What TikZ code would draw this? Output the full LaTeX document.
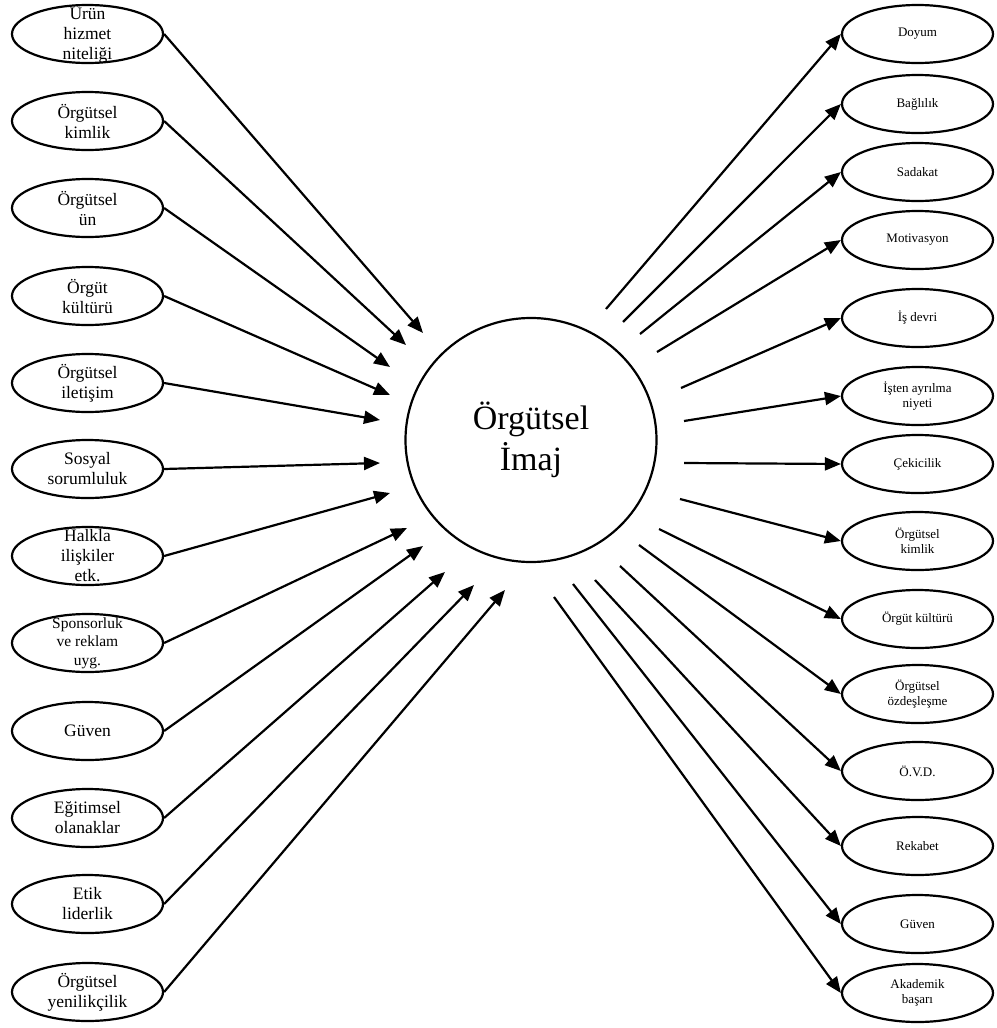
\documentclass[tikz,border=0pt]{standalone}
\usepackage{fontspec}
\setmainfont{Liberation Serif}
\usetikzlibrary{shapes.geometric,arrows.meta}
\begin{document}
\begin{tikzpicture}[x=1pt,y=-1pt,
  factor/.style={ellipse,draw,line width=2.2pt,minimum width=151pt,minimum height=58pt,inner sep=0pt},
  ltext/.style={font=\fontsize{17.5}{20}\selectfont,align=center,inner sep=0pt},
  stext/.style={font=\fontsize{15.5}{18.5}\selectfont,align=center,inner sep=0pt},
  rtext/.style={font=\fontsize{13}{15}\selectfont,align=center,inner sep=0pt},
  link/.style={line width=2.2pt,-{Triangle[length=16pt,width=13pt]}}]
\useasboundingbox (0,0) rectangle (996,1028);

% central concept
\node[ellipse,draw,line width=2.2pt,minimum width=251pt,minimum height=244pt,inner sep=0pt,
      font=\fontsize{34}{41}\selectfont,align=center] (core) at (531,440) {Örgütsel\\İmaj};

% antecedents (left column)
\node[factor,label={[ltext]center:{Ürün\\hizmet\\niteliği}}] (l1) at (87.5,34) {};
\node[factor,label={[ltext]center:{Örgütsel\\kimlik}}] (l2) at (87.5,121) {};
\node[factor,label={[ltext]center:{Örgütsel\\ün}}] (l3) at (87.5,208) {};
\node[factor,label={[ltext]center:{Örgüt\\kültürü}}] (l4) at (87.5,296) {};
\node[factor,label={[ltext]center:{Örgütsel\\iletişim}}] (l5) at (87.5,383) {};
\node[factor,label={[ltext]center:{Sosyal\\sorumluluk}}] (l6) at (87.5,469) {};
\node[factor,label={[ltext]center:{Halkla\\ilişkiler\\etk.}}] (l7) at (87.5,556) {};
\node[factor,label={[stext]center:{Sponsorluk\\ve reklam\\uyg.}}] (l8) at (87.5,643) {};
\node[factor,label={[ltext]center:{Güven}}] (l9) at (87.5,731) {};
\node[factor,label={[ltext]center:{Eğitimsel\\olanaklar}}] (l10) at (87.5,818) {};
\node[factor,label={[ltext]center:{Etik\\liderlik}}] (l11) at (87.5,904) {};
\node[factor,label={[ltext]center:{Örgütsel\\yenilikçilik}}] (l12) at (87.5,992) {};

% outcomes (right column)
\node[factor,label={[rtext]center:{Doyum}}] (r1) at (917.5,34) {};
\node[factor,label={[rtext]center:{Bağlılık}}] (r2) at (917.5,104) {};
\node[factor,label={[rtext]center:{Sadakat}}] (r3) at (917.5,172) {};
\node[factor,label={[rtext]center:{Motivasyon}}] (r4) at (917.5,240) {};
\node[factor,label={[rtext]center:{İş devri}}] (r5) at (917.5,318) {};
\node[factor,label={[rtext]center:{İşten ayrılma\\niyeti}}] (r6) at (917.5,396) {};
\node[factor,label={[rtext]center:{Çekicilik}}] (r7) at (917.5,464) {};
\node[factor,label={[rtext]center:{Örgütsel\\kimlik}}] (r8) at (917.5,541) {};
\node[factor,label={[rtext]center:{Örgüt kültürü}}] (r9) at (917.5,619) {};
\node[factor,label={[rtext]center:{Örgütsel\\özdeşleşme}}] (r10) at (917.5,694) {};
\node[factor,label={[rtext]center:{Ö.V.D.}}] (r11) at (917.5,771) {};
\node[factor,label={[rtext]center:{Rekabet}}] (r12) at (917.5,846) {};
\node[factor,label={[rtext]center:{Güven}}] (r13) at (917.5,924) {};
\node[factor,label={[rtext]center:{Akademik\\başarı}}] (r14) at (917.5,993) {};

% arrow tips around the circle (incoming)
\coordinate (i1) at (423,333);
\coordinate (i2) at (406,345);
\coordinate (i3) at (390,367);
\coordinate (i4) at (390,395);
\coordinate (i5) at (380,420);
\coordinate (i6) at (380,463);
\coordinate (i7) at (390,493);
\coordinate (i8) at (407,528);
\coordinate (i9) at (423,546);
\coordinate (i10) at (445,572);
\coordinate (i11) at (474,585);
\coordinate (i12) at (505,590);

% line starts around the circle (outgoing)
\coordinate (o1) at (606,309);
\coordinate (o2) at (623,322);
\coordinate (o3) at (640,334);
\coordinate (o4) at (657,352);
\coordinate (o5) at (681,388);
\coordinate (o6) at (684,421);
\coordinate (o7) at (684,463);
\coordinate (o8) at (680,499);
\coordinate (o9) at (659,529);
\coordinate (o10) at (639,545);
\coordinate (o11) at (620,566);
\coordinate (o12) at (595,580);
\coordinate (o13) at (573,584);
\coordinate (o14) at (554,597);

\foreach \k in {1,...,12} \draw[link] (l\k.east) -- (i\k);
\foreach \k in {1,...,14} \draw[link] (o\k) -- (r\k.west);
\end{tikzpicture}
\end{document}
